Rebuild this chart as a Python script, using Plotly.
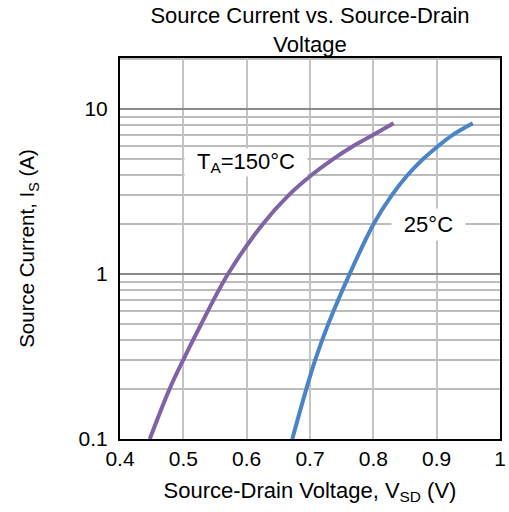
import plotly.graph_objects as go

# Data
current_a = [0.1, 0.2, 0.3, 0.5, 1, 2, 3, 4, 5, 6, 7, 8.2]
vsd_150c = [0.447, 0.478, 0.4995, 0.5285, 0.5705, 0.625, 0.666, 0.703, 0.737, 0.769, 0.800, 0.832]
vsd_25c = [0.672, 0.694, 0.708, 0.729, 0.7625, 0.800, 0.829, 0.8545, 0.879, 0.903, 0.926, 0.957]

x_ticks = [0.4, 0.5, 0.6, 0.7, 0.8, 0.9, 1.0]
x_tick_text = ["0.4", "0.5", "0.6", "0.7", "0.8", "0.9", "1"]
y_ticks = [0.1, 1, 10]
y_tick_text = ["0.1", "1", "10"]
y_minor = [0.2, 0.3, 0.4, 0.5, 0.6, 0.7, 0.8, 0.9, 2, 3, 4, 5, 6, 7, 8, 9, 20]

FONT = "Liberation Sans, Arial, sans-serif"

fig = go.Figure()
fig.add_trace(go.Scatter(x=vsd_150c, y=current_a, mode="lines",
                         line=dict(color="#8062a6", width=4, shape="spline"),
                         name="150°C", showlegend=False, hoverinfo="skip"))
fig.add_trace(go.Scatter(x=vsd_25c, y=current_a, mode="lines",
                         line=dict(color="#4a84c6", width=4, shape="spline"),
                         name="25°C", showlegend=False, hoverinfo="skip"))

fig.add_annotation(x=0.599, y=0.675, xref="x", yref="y",
                   text="T<sub>A</sub>=150°C", showarrow=False,
                   font=dict(family=FONT, size=22, color="black"),
                   bgcolor="white", borderpad=0, width=122, height=27,
                   xanchor="center", yanchor="middle")
fig.add_annotation(x=0.8868, y=0.298, xref="x", yref="y",
                   text="25°C", showarrow=False,
                   font=dict(family=FONT, size=22, color="black"),
                   bgcolor="white", borderpad=0, width=73, height=31,
                   xanchor="center", yanchor="middle")

fig.update_layout(
    width=509, height=512,
    margin=dict(l=120, r=9, t=58, b=73, autoexpand=False),
    paper_bgcolor="white", plot_bgcolor="white",
    font=dict(family=FONT, size=21, color="black"),
    title=dict(text="Source Current vs. Source-Drain<br>Voltage",
               x=0.5, xref="paper", xanchor="center",
               y=1 - 23 / 512, yref="container", yanchor="top",
               font=dict(family=FONT, size=22, color="black")),
    xaxis=dict(range=[0.4, 1.0], tickvals=x_ticks, ticktext=x_tick_text,
               showgrid=True, gridcolor="#c4c4c4", gridwidth=1.5,
               showline=True, linecolor="black", linewidth=2, mirror=True,
               ticks="", zeroline=False, automargin=False,
               tickfont=dict(family=FONT, size=21),
               title=dict(text="Source-Drain Voltage, V<sub>SD</sub> (V)",
                          font=dict(family=FONT, size=22), standoff=13)),
    yaxis=dict(type="log", range=[-1, 1.31], tickvals=y_ticks, ticktext=y_tick_text,
               showgrid=True, gridcolor="#8a8a8a", gridwidth=2,
               showline=True, linecolor="black", linewidth=2, mirror=True,
               ticks="", zeroline=False, automargin=False, ticklabelstandoff=6,
               minor=dict(tickvals=y_minor, showgrid=True, gridcolor="#bcbcbc", gridwidth=2, ticks=""),
               tickfont=dict(family=FONT, size=21),
               title=dict(text="Source Current, I<sub>S</sub> (A)",
                          font=dict(family=FONT, size=20.5), standoff=38)),
)

fig.write_html("out.html", config={"displayModeBar": False},
               post_script="document.body.style.margin='0';")
